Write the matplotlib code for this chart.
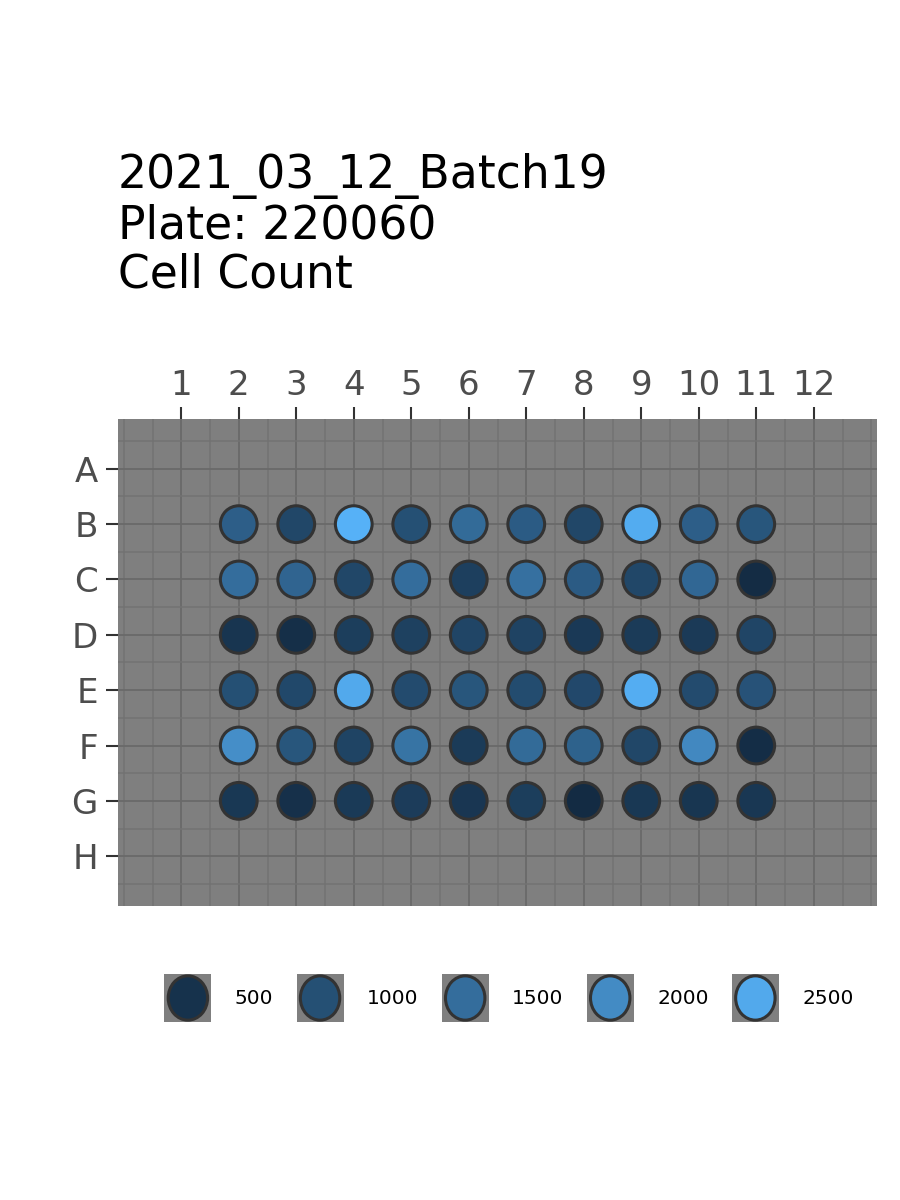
import numpy as np
import matplotlib.pyplot as plt
from matplotlib.colors import LinearSegmentedColormap, Normalize
from matplotlib.legend_handler import HandlerBase
from matplotlib.patches import Rectangle, Ellipse, Patch

# plate layout
row_labels = ["A", "B", "C", "D", "E", "F", "G", "H"]
col_labels = [str(c) for c in range(1, 13)]

# wells that hold cells (rows B-G, columns 2-11)
well_rows = ["B", "C", "D", "E", "F", "G"]
well_cols = [2, 3, 4, 5, 6, 7, 8, 9, 10, 11]

# cell count, one list per row
count_B = [1250, 850, 2640, 1000, 1450, 1200, 850, 2550, 1250, 1100]
count_C = [1500, 1350, 850, 1500, 720, 1550, 1200, 850, 1400, 400]
count_D = [550, 450, 700, 750, 820, 780, 620, 650, 640, 830]
count_E = [1000, 870, 2500, 920, 1100, 930, 880, 2570, 920, 1050]
count_F = [2050, 1100, 800, 1600, 650, 1450, 1300, 850, 1950, 420]
count_G = [600, 470, 630, 680, 570, 700, 380, 600, 560, 580]

legend_breaks = [500, 1000, 1500, 2000, 2500]

title = "2021_03_12_Batch19\nPlate: 220060\nCell Count"

PANEL = "#7f7f7f"
EDGE = "#333333"

counts = np.array([count_B, count_C, count_D, count_E, count_F, count_G], dtype=float)
xs, ys = np.meshgrid(well_cols, [row_labels.index(r) + 1 for r in well_rows])

cmap = LinearSegmentedColormap.from_list("gg", ["#132B43", "#56B1F7"])
norm = Normalize(vmin=counts.min(), vmax=counts.max())

fig = plt.figure(figsize=(9, 12), dpi=100)
ax = fig.add_axes([118 / 900, 1 - 906 / 1200, (877 - 118) / 900, (906 - 419) / 1200])
ax.set_facecolor(PANEL)

ax.set_xlim(-0.1, 13.1)
ax.set_ylim(8.9, 0.1)

ax.set_xticks(range(1, 13))
ax.set_xticklabels(col_labels)
ax.set_yticks(range(1, 9))
ax.set_yticklabels(row_labels)
ax.set_xticks(np.arange(0, 13.01, 0.5), minor=True)
ax.set_yticks(np.arange(0.5, 8.51, 0.5), minor=True)

ax.grid(True, which="minor", color="#727272", linewidth=1.1)
ax.grid(True, which="major", color="#696969", linewidth=1.3)
ax.set_axisbelow(True)
ax.xaxis.tick_top()
ax.tick_params(which="major", length=8.5, width=1.5, color=EDGE,
               labelcolor="#4d4d4d", labelsize=24.5, pad=6)
ax.tick_params(axis="x", which="major", pad=3.5)
ax.tick_params(which="minor", length=0)
for s in ax.spines.values():
    s.set_visible(False)

ax.scatter(xs.ravel(), ys.ravel(), c=counts.ravel(), cmap=cmap, norm=norm,
           s=700, edgecolors=EDGE, linewidths=2.2, zorder=3)

fig.text(118 / 900, 1 - 153 / 1200, title, fontsize=32.9, va="top", ha="left",
         linespacing=1.12)


class WellHandler(HandlerBase):
    def create_artists(self, legend, orig_handle, xdescent, ydescent,
                       width, height, fontsize, trans):
        bg = Rectangle((-xdescent, -ydescent), width, height,
                       facecolor=PANEL, edgecolor="none", transform=trans)
        dot = Ellipse((-xdescent + width / 2, -ydescent + height / 2),
                      width * 0.84, height * 0.92,
                      facecolor=orig_handle.get_facecolor(), edgecolor=EDGE,
                      linewidth=2.2, transform=trans)
        return [bg, dot]


handles = [Patch(facecolor=cmap(norm(b))) for b in legend_breaks]
fig.legend(handles, [str(b) for b in legend_breaks],
           handler_map={Patch: WellHandler()},
           loc="center", bbox_to_anchor=(509 / 900, 1 - 998 / 1200),
           ncol=5, frameon=False, fontsize=14.5, handlelength=2.33,
           handleheight=3.3, handletextpad=1.16, columnspacing=1.16,
           borderpad=0)

fig.savefig("out.png", dpi=100)
